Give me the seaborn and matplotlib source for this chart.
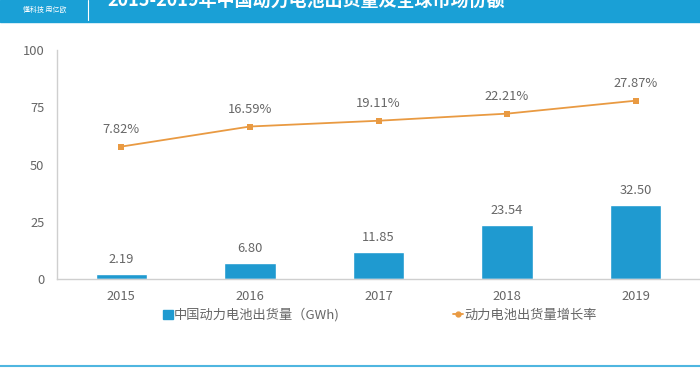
import matplotlib
matplotlib.use("Agg")
import matplotlib.pyplot as plt
import seaborn as sns
import pandas as pd
from matplotlib.lines import Line2D
from matplotlib.patches import Rectangle

years = ["2015", "2016", "2017", "2018", "2019"]
shipments = [2.19, 6.80, 11.85, 23.54, 32.50]
growth = [7.82, 16.59, 19.11, 22.21, 27.87]
yticks = [0, 25, 50, 75, 100]
bar_label = "中国动力电池出货量（GWh)"
line_label = "动力电池出货量增长率"
title = "2015-2019年中国动力电池出货量及全球市场份额"
brand = "懂科技 用亿欧"

sns.set_theme(style="white")
plt.rcParams['font.family'] = ['Noto Sans CJK SC', 'DejaVu Sans']
plt.rcParams['font.weight'] = 'light'

BLUE = "#1f9ad0"
ORANGE = "#e99a42"
GRAY = "#666666"
FS = 9.3

fig = plt.figure(figsize=(7, 3.7), dpi=100)
ax = fig.add_axes([57/700, 1-279/370, 643/700, 229/370])

df = pd.DataFrame({"year": years, "val": shipments})
sns.barplot(data=df, x="year", y="val", color=BLUE, width=0.4, ax=ax, saturation=1)
ax.set_ylim(0, 100)
ax.set_xlim(-0.5, 4.5)
ax.set_yticks(yticks)
ax.set_xlabel("")
ax.set_ylabel("")
ax.tick_params(axis="both", colors=GRAY, labelsize=FS, length=0)
ax.tick_params(axis="x", pad=8)
ax.tick_params(axis="y", pad=9)
for s in ["top", "right"]:
    ax.spines[s].set_visible(False)
for s in ["left", "bottom"]:
    ax.spines[s].set_color("#cfcfcf")
    ax.spines[s].set_linewidth(1)
for i, v in enumerate(shipments):
    ax.text(i, v + 3.5, f"{v:.2f}", ha="center", va="bottom", color=GRAY, fontsize=FS)

ax2 = ax.twinx()
ldf = pd.DataFrame({"x": list(range(len(years))), "g": growth})
sns.lineplot(data=ldf, x="x", y="g", color=ORANGE, marker="s", markersize=4,
             markeredgewidth=0, linewidth=1.3, ax=ax2)
ax2.set_ylim(-50, 50)
ax2.set_xlim(-0.5, 4.5)
ax2.axis("off")
for i, g in enumerate(growth):
    ax2.text(i, g + 4.5, f"{g:.2f}%", ha="center", va="bottom", color=GRAY, fontsize=FS)

# legend
handles = [Rectangle((0, 0), 1, 1, color=BLUE),
           Line2D([0], [0], color=ORANGE, marker="o", markersize=3.5, lw=1.3)]
leg = fig.legend(handles, [bar_label, line_label], loc="center", ncol=2,
                 bbox_to_anchor=(380/700, 1-315/370), frameon=False, fontsize=9.5,
                 columnspacing=8.6, handlelength=0.75, handletextpad=0.1, labelcolor=GRAY)

# header banner
fig.patches.append(Rectangle((0, 1-22/370), 1, 22/370, transform=fig.transFigure,
                             color="#1aa0d6", zorder=0))
fig.lines.append(Line2D([88/700, 88/700], [1-20/370, 1], transform=fig.transFigure,
                        color="white", lw=0.8))
fig.text(45/700, 1-9.5/370, brand, ha="center", va="center", color="white", fontsize=5)
fig.text(107/700, 1-1/370, title, ha="left", va="center", color="white", fontsize=13,
         fontweight="bold")
# bottom line
fig.lines.append(Line2D([0, 1], [1-366/370, 1-366/370], transform=fig.transFigure,
                        color="#4fb6e0", lw=1.5))

fig.savefig("out.png", dpi=100)
